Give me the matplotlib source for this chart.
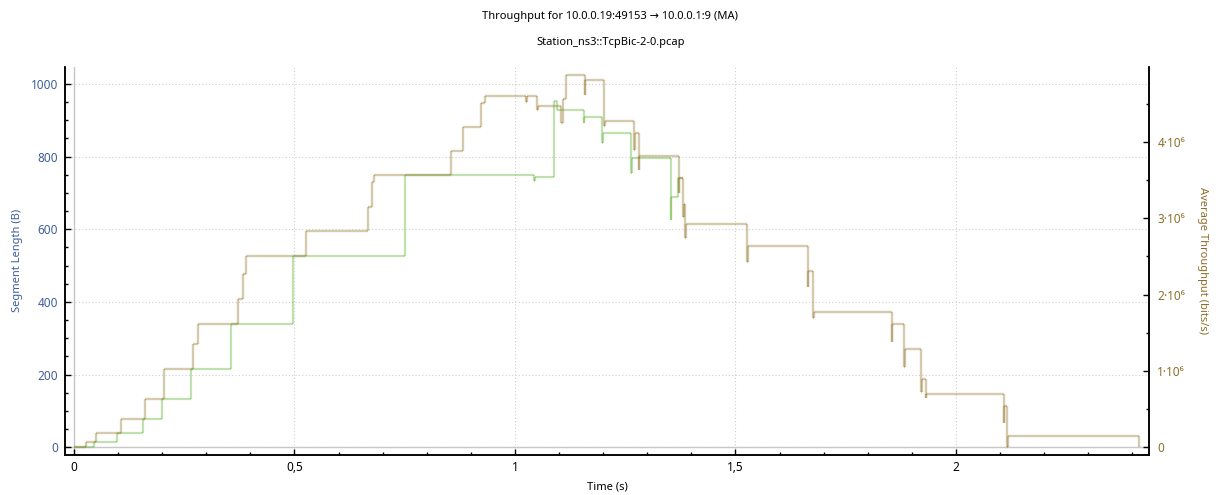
import numpy as np
import matplotlib.pyplot as plt
from matplotlib.collections import LineCollection
from matplotlib.ticker import MultipleLocator, FixedLocator

plt.rcParams['font.family'] = ['Noto Sans', 'DejaVu Sans']

# Скользящее среднее пропускной способности (бит/с), ступенчатая функция
thr_t = [0.000, 0.027, 0.051, 0.106, 0.161, 0.205, 0.271, 0.281, 0.372, 0.383,
         0.389, 0.527, 0.666, 0.676, 0.681, 0.856, 0.883, 0.923, 0.932,
         1.026, 1.027, 1.051, 1.052, 1.105, 1.109, 1.116, 1.158, 1.159, 1.203,
         1.204, 1.271, 1.272, 1.281, 1.282, 1.371, 1.372, 1.382, 1.383, 1.386,
         1.387, 1.527, 1.528, 1.664, 1.665, 1.676, 1.677, 1.855, 1.856, 1.883,
         1.884, 1.921, 1.922, 1.932, 1.933, 2.109, 2.110, 2.116, 2.117, 2.415]
thr_v = [0, 0.073, 0.191, 0.366, 0.632, 1.029, 1.348, 1.618, 1.94, 2.264,
         2.508, 2.83, 3.149, 3.468, 3.56, 3.878, 4.192, 4.51, 4.60,
         4.52, 4.598, 4.41, 4.471, 4.24, 4.555, 4.873, 4.61, 4.804, 4.20,
         4.275, 3.89, 4.11, 3.63, 3.813, 3.33, 3.52, 3.02, 3.19, 2.74,
         2.92, 2.42, 2.635, 2.10, 2.312, 1.69, 1.767, 1.374, 1.61, 1.055,
         1.283, 0.728, 0.89, 0.645, 0.694, 0.313, 0.54, 0.0, 0.148, 0.0]

# Goodput (бит/с)
good_t = [0.000, 0.046, 0.098, 0.156, 0.200, 0.265, 0.355, 0.496, 0.750,
          1.044, 1.045, 1.088, 1.096, 1.156, 1.157, 1.198, 1.199, 1.264,
          1.265, 1.353, 1.354, 1.369, 1.382]
good_v = [0, 0.073, 0.183, 0.366, 0.632, 1.025, 1.618, 2.508, 3.56,
          3.49, 3.54, 4.53, 4.42, 4.24, 4.32, 3.98, 4.11, 3.586,
          3.79, 2.98, 3.27, 3.52, 3.52]

x_ticks = [0, 0.5, 1, 1.5, 2]
x_tick_labels = ['0', '0,5', '1', '1,5', '2']
left_ticks = [0, 200, 400, 600, 800, 1000]
right_ticks = [0, 1e6, 2e6, 3e6, 4e6]
right_tick_labels = ['0', '1·10⁶', '2·10⁶', '3·10⁶', '4·10⁶']

BLUE = '#3d5f98'
OLIVE = '#8c6e28'
GRID = '#cfcfcf'


def step_segments(t, v, scale=1e6):
    # Отдельные отрезки ступенек, чтобы наложения с alpha темнели
    xs, ys = [t[0]], [v[0] * scale]
    for i in range(1, len(t)):
        xs += [t[i], t[i]]
        ys += [v[i - 1] * scale, v[i] * scale]
    pts = np.column_stack([xs, ys])
    return np.stack([pts[:-1], pts[1:]], axis=1)


fig = plt.figure(figsize=(12.21, 4.95), dpi=100)
ax = fig.add_axes([0.0532, 0.0808, 0.8878, 0.7845])
ax2 = ax.twinx()

ax.set_xlim(-0.0204, 2.4376)
ax.set_ylim(-21.2, 1047.6)
ax2.set_ylim(-1.0e5, 4.982e6)

# сетка и нулевые линии
ax.grid(True, which='major', color=GRID, linestyle=(0, (1, 2)), linewidth=0.8)
ax.axhline(0, color='#c4c4c4', lw=1.0, zorder=1)
ax.axvline(0, color='#c4c4c4', lw=1.0, zorder=1)

ax2.add_collection(LineCollection(step_segments(good_t, good_v),
                                  colors=[(0.38, 0.70, 0.22, 0.4)],
                                  linewidths=1.6, capstyle='butt'))
ax2.add_collection(LineCollection(step_segments(thr_t, thr_v),
                                  colors=[(0.55, 0.43, 0.12, 0.36)],
                                  linewidths=1.7, capstyle='butt'))

ax.xaxis.set_major_locator(FixedLocator(x_ticks))
ax.set_xticklabels(x_tick_labels)
ax.xaxis.set_minor_locator(MultipleLocator(0.1))
ax.yaxis.set_major_locator(FixedLocator(left_ticks))
ax.yaxis.set_minor_locator(MultipleLocator(50))
ax2.yaxis.set_major_locator(FixedLocator(right_ticks))
ax2.set_yticklabels(right_tick_labels)
ax2.yaxis.set_minor_locator(MultipleLocator(0.5e6))

for a in (ax, ax2):
    a.spines['top'].set_visible(False)
    for s in ('left', 'right', 'bottom'):
        a.spines[s].set_linewidth(1.1)
    a.tick_params(which='major', direction='in', length=4.5, width=1.0,
                  labelsize=8.5)
    a.tick_params(which='minor', direction='in', length=2.5, width=1.0)

ax.tick_params(axis='y', labelcolor=BLUE, pad=5)
ax.tick_params(axis='x', pad=4)
ax2.tick_params(axis='y', labelcolor=OLIVE, pad=6)

ax.set_xlabel('Time (s)', fontsize=8, labelpad=6)
ax.set_ylabel('Segment Length (B)', fontsize=8, color=BLUE,
              ha='center', va='center')
ax.yaxis.set_label_coords(-0.0434, 0.5)
ax2.set_ylabel('Average Throughput (bits/s)', fontsize=8, color=OLIVE,
               rotation=-90, ha='center', va='center')
ax2.yaxis.set_label_coords(1.0498, 0.5)

fig.text(0.5, 0.9657, 'Throughput for 10.0.0.19:49153 → 10.0.0.1:9 (MA)',
         ha='center', va='center', fontsize=8)
fig.text(0.5, 0.915, 'Station_ns3::TcpBic-2-0.pcap',
         ha='center', va='center', fontsize=8)

fig.savefig('out.png', dpi=100)
